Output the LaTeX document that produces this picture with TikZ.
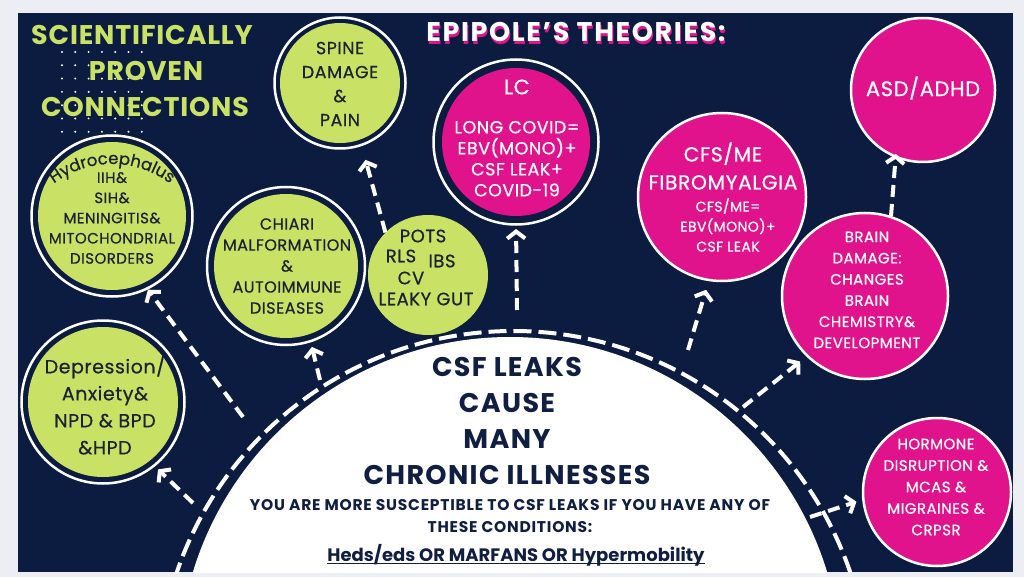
\documentclass[tikz,border=0pt]{standalone}
\usepackage{fontspec}
\setmainfont{Poppins}
\newfontfamily\lsA[LetterSpace=3]{Poppins}
\newfontfamily\lsM[LetterSpace=3,FakeBold=0.6]{Poppins}
\newfontfamily\lsB[LetterSpace=6]{Poppins}
\newfontfamily\lsC[LetterSpace=5]{Poppins}
\usetikzlibrary{arrows.meta,decorations.text}
\definecolor{navybg}{RGB}{12,27,64}
\definecolor{limec}{RGB}{201,226,101}
\definecolor{pinkc}{RGB}{224,19,140}
\definecolor{pagebg}{RGB}{236,238,243}
\definecolor{inkc}{RGB}{26,36,48}
\definecolor{navytxt}{RGB}{16,30,66}
\newcommand{\fsz}[2]{\fontsize{#1}{#2}\selectfont}
\begin{document}
\begin{tikzpicture}[x=1pt,y=-1pt,
  gcirc/.style={circle,fill=limec,inner sep=0pt},
  pcirc/.style={circle,fill=pinkc,draw=white,line width=2.5pt,inner sep=0pt},
  ringc/.style={draw=white,line width=2.5pt},
  gtext/.style={text=inkc,align=center,inner sep=0pt},
  ptext/.style={text=white,align=center,inner sep=0pt},
  ttext/.style={font=\lsA\bfseries\fsz{27}{36},inner sep=0pt},
  flow/.style={draw=white,line width=4pt,dash pattern=on 12pt off 7pt,
     -{Straight Barb[length=7pt,width=18pt]}}]
\useasboundingbox (0,0) rectangle (1024,577);
\fill[pagebg] (0,0) rectangle (1024,577);
\fill[navybg] (18,13) rectangle (1013,572);
% central half circle and dashed ring
\begin{scope}
  \clip (18,13) rectangle (1013,572);
  \fill[white] (510,668.3) circle[radius=331.3];
  \draw[white,line width=4pt,dash pattern=on 18pt off 7pt] (513.5,686.4) circle[radius=355.4];
\end{scope}
% dot grid
\foreach \i in {0,...,6}{\foreach \j in {0,...,6}{
  \fill[white] (62+13.3*\i,52+13.3*\j) circle[radius=1.1];}}
% titles
\node[ttext,text=limec] (sci1) at (142,35) {SCIENTIFICALLY};
\node[ttext,text=limec] (sci2) at (146,71) {PROVEN};
\node[ttext,text=limec] (sci3) at (145,107) {CONNECTIONS};
\node[ttext,font=\lsB\bfseries\fsz{27}{36},text=pinkc] (epiS) at (577,35) {EPIPOLE’S THEORIES:};
\node[ttext,font=\lsB\bfseries\fsz{27}{36},text=white] (epi) at (576,32) {EPIPOLE’S THEORIES:};
% circles
\node[gcirc,minimum size=148pt,outer sep=8pt] (hyd) at (112,216) {};
\draw[ringc] (hyd.center) circle[radius=80.5];
\node[gcirc,minimum size=150pt,outer sep=9pt] (dep) at (103,402) {};
\draw[ringc] (dep.center) circle[radius=81.5];
\node[gcirc,minimum size=120pt,outer sep=7pt] (spine) at (340,83) {};
\draw[ringc] (spine.center) circle[radius=65.5];
\node[circle,fill=pinkc,inner sep=0pt,minimum size=148pt,outer sep=9pt] (lc) at (516,142) {};
\draw[ringc] (lc.center) circle[radius=82.5];
\node[gcirc,minimum size=144pt,outer sep=8pt] (chi) at (286,266) {};
\draw[ringc] (chi.center) circle[radius=79];
\node[gcirc,minimum size=120pt] (pots) at (428,275) {};
\node[pcirc,minimum size=168pt] (cfs) at (722,197) {};
\node[pcirc,minimum size=144pt] (asd) at (923,90) {};
\node[pcirc,minimum size=166pt] (brain) at (865,296) {};
\node[pcirc,minimum size=148pt] (horm) at (937,492) {};
% texts in circles
\begin{scope}[x=1pt,y=1pt]
  \path[decorate,decoration={text along path,text align=center,
    text={|\lsM\fsz{16.5}{17}\color{inkc}|Hydrocephalus}}]
    (112,-260) ++(129:96) arc[start angle=129,end angle=51,radius=96];
\end{scope}
\node[gtext,font=\lsM\fsz{15}{20.2}] (hydT) at (112,218) {IIH\&\\SIH\&\\MENINGITIS\&\\MITOCHONDRIAL\\DISORDERS};
\node[gtext,font=\lsM\fsz{19}{27}] (depT) at (105,405) {Depression/\\Anxiety\&\\NPD \& BPD\\\&HPD};
\node[gtext,font=\lsM\fsz{17.5}{24}] (spineT) at (340,84) {SPINE\\DAMAGE\\\&\\PAIN};
\node[ptext,font=\lsM\fsz{17.5}{21}] (lcT) at (517,138) {{\fsz{21}{21}LC}\\[18pt]LONG COVID=\\EBV(MONO)+\\CSF LEAK+\\COVID-19};
\node[gtext,font=\lsM\fsz{16}{21}] (chiT) at (287,266) {CHIARI\\MALFORMATION\\\&\\AUTOIMMUNE\\DISEASES};
\node[gtext,font=\lsM\fsz{18}{20}] (potsA) at (423,236) {POTS};
\node[gtext,font=\lsM\fsz{18}{20}] (potsB) at (401,256) {RLS};
\node[gtext,font=\lsM\fsz{18}{20}] (potsC) at (442,261) {IBS};
\node[gtext,font=\lsM\fsz{18}{20}] (potsD) at (411,278) {CV};
\node[gtext,font=\lsM\fsz{18}{20}] (potsE) at (426,299) {LEAKY GUT};
\node[ptext,font=\lsM\fsz{20.3}{28}] (cfsT) at (723,166) {CFS/ME\\FIBROMYALGIA};
\node[ptext,font=\lsM\fsz{14}{20}] (cfsU) at (728,225) {CFS/ME=\\EBV(MONO)+\\CSF LEAK};
\node[ptext,font=\lsM\fsz{21}{22}] (asdT) at (923,88) {ASD/ADHD};
\node[ptext,font=\lsM\fsz{15}{21.2}] (brainT) at (867,290) {BRAIN\\DAMAGE:\\CHANGES\\BRAIN\\CHEMISTRY\&\\DEVELOPMENT};
\node[ptext,font=\lsM\fsz{15}{21.5}] (hormT) at (936,487) {HORMONE\\DISRUPTION \&\\MCAS \&\\MIGRAINES \&\\CRPSR};
% central texts
\node[ttext,font=\lsC\bfseries\fsz{27}{36},text=navytxt,align=center] (csfT) at (507,421) {CSF LEAKS\\CAUSE\\MANY\\CHRONIC ILLNESSES};
\node[text=navytxt,align=center,inner sep=0pt,font=\lsC\bfseries\fsz{15.5}{22}] (youT) at (510,516) {YOU ARE MORE SUSCEPTIBLE TO CSF LEAKS IF YOU HAVE ANY OF\\THESE CONDITIONS:};
\node[text=navytxt,inner sep=0pt,font=\bfseries\fsz{18}{20}] (hedsT) at (516,555) {Heds/eds OR MARFANS OR Hypermobility};
\draw[navytxt,line width=1.3pt] ([yshift=-2.5pt]hedsT.base west) -- ([yshift=-2.5pt]hedsT.base east);
% arrows
\coordinate (t1) at (243,417);
\coordinate (t2) at (193,503);
\coordinate (t3) at (320,380);
\coordinate (t4) at (517,310);
\coordinate (t5) at (688,350);
\coordinate (t6) at (743,407);
\coordinate (t7) at (810,517);
\draw[flow] (t1) -- (hyd.296);
\draw[flow,shorten >=3pt] (t2) -- (dep.309);
\draw[flow,shorten >=5pt] (t3) -- (chi.288);
\draw[flow,shorten >=14pt] (pots.135) -- (spine.289);
\draw[flow,shorten >=4pt] (t4) -- (lc.270);
\draw[flow,shorten >=9pt] (t5) -- (cfs.261);
\draw[flow,shorten >=-4pt] (brain.72) -- (asd.248);
\draw[flow,shorten >=8pt] (t6) -- (brain.226);
\draw[flow,shorten >=6pt] (t7) -- (horm.186);
\end{tikzpicture}
\end{document}
